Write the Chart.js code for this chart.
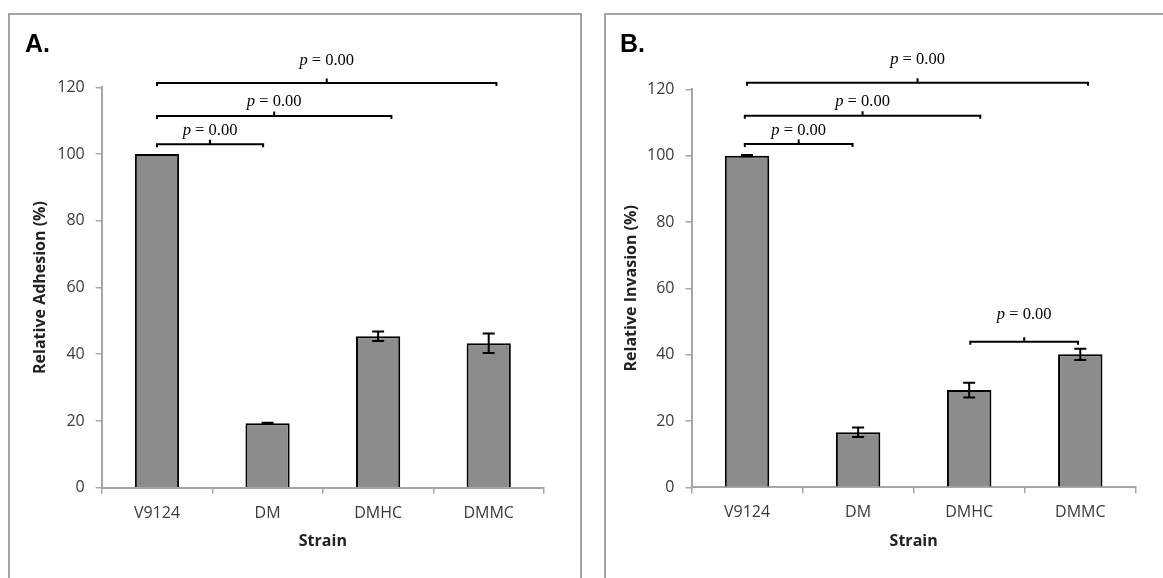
<!DOCTYPE html>
<html>
<head>
<meta charset="utf-8">
<script src="https://cdn.jsdelivr.net/npm/chart.js@4/dist/chart.umd.min.js"></script>
<style>
  html, body { margin: 0; padding: 0; width: 1163px; height: 578px; overflow: hidden; background: #fff; }
  .frame { position: absolute; border: 2px solid #a3a3a3; box-sizing: border-box; }
  canvas { position: absolute; top: 0; }
  .tag { position: absolute; top: 31px; font: bold 25px "Liberation Sans", Arial, sans-serif; line-height: 25px; color: #000; }
</style>
</head>
<body>
<div class="frame" style="left:8px;top:13px;width:574px;height:620px"></div>
<div class="frame" style="left:604px;top:13px;width:620px;height:620px"></div>
<canvas id="chartA" width="581" height="578" style="left:0"></canvas>
<canvas id="chartB" width="581" height="578" style="left:582px"></canvas>
<div class="tag" style="left:25px">A.</div>
<div class="tag" style="left:620px">B.</div>
<script>
// values
const strains = ['V9124', 'DM', 'DMHC', 'DMMC'];
const yTicks = [0, 20, 40, 60, 80, 100, 120];

const adhesion = [100, 19.3, 45.4, 43.3];
const adhesionErr = [0, 0.2, 1.4, 2.9];
const invasion = [100, 16.6, 29.3, 40.1];
const invasionErr = [0.2, 1.4, 2.2, 1.7];

// significance brackets: category positions and height on the value axis
const pLabel = 'p = 0.00';
const adhesionFrom = [0, 0, 0];
const adhesionTo = [0.96, 2.12, 3.07];
const adhesionLevel = [102.9, 111.4, 121.3];
const adhesionLabelAt = [106.9, 115.6, 128.0];
const invasionFrom = [-0.02, -0.02, 0, 2.01];
const invasionTo = [0.95, 2.10, 3.07, 2.98];
const invasionLevel = [103.5, 112.0, 122.0, 43.9];
const invasionLabelAt = [107.5, 116.3, 128.8, 52.0];

const sans = '"Open Sans", sans-serif';
const axisGray = '#a6a6a6';

// error bars + p-value brackets
const annotate = {
  id: 'annotate',
  afterDatasetsDraw(chart, args, o) {
    const ctx = chart.ctx;
    const xs = chart.scales.x, ys = chart.scales.y;
    const meta = chart.getDatasetMeta(0);
    const vals = chart.data.datasets[0].data;
    ctx.save();
    ctx.strokeStyle = '#000';
    ctx.lineWidth = 2;
    o.errors.forEach((e, i) => {
      if (!e) return;
      const bx = meta.data[i].x;
      const t = ys.getPixelForValue(vals[i] + e);
      const b = ys.getPixelForValue(vals[i] - e);
      ctx.beginPath();
      ctx.moveTo(bx, t); ctx.lineTo(bx, b);
      ctx.moveTo(bx - 6, t); ctx.lineTo(bx + 6, t);
      ctx.moveTo(bx - 6, b); ctx.lineTo(bx + 6, b);
      ctx.stroke();
    });
    o.from.forEach((f, i) => {
      const x1 = xs.getPixelForValue(f);
      const x2 = xs.getPixelForValue(o.to[i]);
      const yl = ys.getPixelForValue(o.level[i]);
      const mid = (x1 + x2) / 2;
      ctx.beginPath();
      ctx.moveTo(x1, yl + 3); ctx.lineTo(x1, yl); ctx.lineTo(x2, yl); ctx.lineTo(x2, yl + 3);
      ctx.moveTo(mid, yl); ctx.lineTo(mid, yl - 4.5);
      ctx.stroke();
      const ly = ys.getPixelForValue(o.labelAt[i]);
      const pFont = 'italic 16.5px "Liberation Serif", serif';
      const rFont = '16.5px "Liberation Serif", serif';
      const rest = pLabel.slice(1);
      ctx.font = pFont; const wp = ctx.measureText('p').width;
      ctx.font = rFont; const wr = ctx.measureText(rest).width;
      const sx = mid - (wp + wr) / 2;
      ctx.fillStyle = '#000';
      ctx.textBaseline = 'middle';
      ctx.textAlign = 'left';
      ctx.font = pFont; ctx.fillText('p', sx, ly);
      ctx.font = rFont; ctx.fillText(rest, sx + wp, ly);
    });
    ctx.restore();
  }
};

function makeChart(id, values, errs, yTitle, marks, box) {
  return new Chart(document.getElementById(id), {
    type: 'bar',
    data: {
      labels: strains,
      datasets: [{
        data: values,
        backgroundColor: '#8c8c8c',
        borderColor: '#000',
        borderWidth: 2,
        barPercentage: 0.4,
        categoryPercentage: 1.0
      }]
    },
    options: {
      responsive: false,
      animation: false,
      devicePixelRatio: 1,
      layout: { padding: { left: 0, right: box.right, top: box.top, bottom: 0 } },
      plugins: {
        legend: { display: false },
        tooltip: { enabled: false },
        annotate: Object.assign({ errors: errs }, marks)
      },
      scales: {
        x: {
          offset: true,
          grid: { drawOnChartArea: false, drawTicks: true, tickLength: 6, color: axisGray, lineWidth: 1.5, offset: true },
          border: { display: true, color: axisGray, width: 2 },
          ticks: { font: { family: sans, size: 16 }, color: '#3a3a3a', padding: 10 },
          title: { display: true, text: 'Strain', color: '#222',
                   font: { family: sans, size: 16, weight: 'bold' }, padding: { top: 0, bottom: 27 } },
          afterFit: s => { s.height = box.xHeight; }
        },
        y: {
          min: 0, max: 120,
          afterBuildTicks: s => { s.ticks = yTicks.map(v => ({ value: v })); },
          grid: { drawOnChartArea: false, drawTicks: true, tickLength: 6, color: axisGray, lineWidth: 1.5 },
          border: { display: true, color: axisGray, width: 2 },
          ticks: { font: { family: sans, size: 16 }, color: '#3a3a3a', padding: 11 },
          title: { display: true, text: yTitle, color: '#222',
                   font: { family: sans, size: 16, weight: 'bold' }, padding: { top: box.titleTop, bottom: 0 } },
          afterFit: s => { s.width = box.yWidth; }
        }
      }
    },
    plugins: [annotate]
  });
}

makeChart('chartA', adhesion, adhesionErr, 'Relative Adhesion (%)',
  { from: adhesionFrom, to: adhesionTo, level: adhesionLevel, labelAt: adhesionLabelAt },
  { right: 37, top: 87.3, xHeight: 90.3, yWidth: 101.7, titleTop: 30.4 });

makeChart('chartB', invasion, invasionErr, 'Relative Invasion (%)',
  { from: invasionFrom, to: invasionTo, level: invasionLevel, labelAt: invasionLabelAt },
  { right: 27.2, top: 89.3, xHeight: 90.7, yWidth: 109.5, titleTop: 39.4 });
</script>
</body>
</html>
